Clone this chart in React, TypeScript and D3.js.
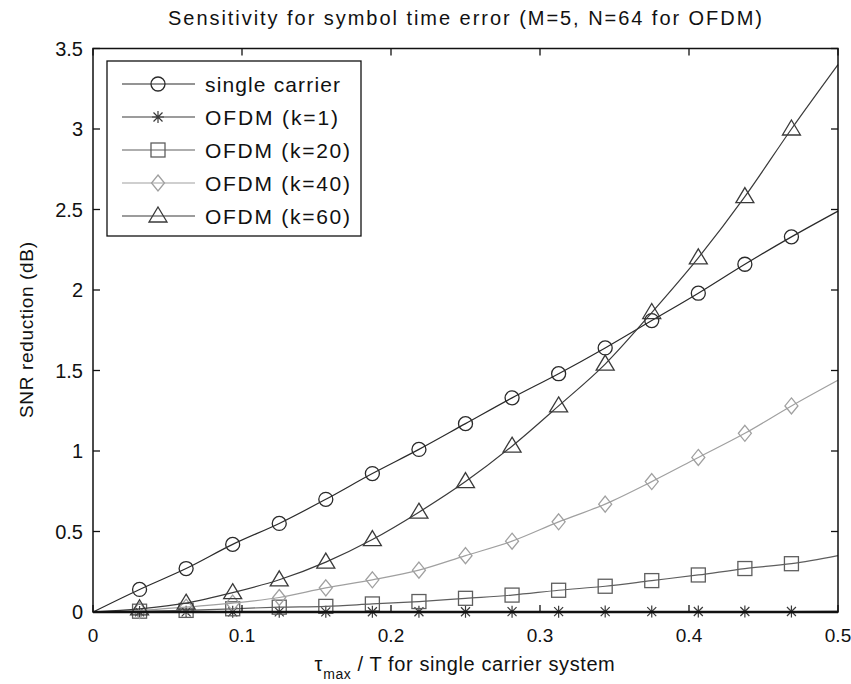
import React from "react";
import * as d3 from "d3";

const xValues = [0, 0.03125, 0.0625, 0.09375, 0.125, 0.15625, 0.1875, 0.21875, 0.25, 0.28125, 0.3125, 0.34375, 0.375, 0.40625, 0.4375, 0.46875, 0.5];
const singleCarrier = [0, 0.14, 0.27, 0.42, 0.55, 0.7, 0.86, 1.01, 1.17, 1.33, 1.48, 1.64, 1.81, 1.98, 2.16, 2.33, 2.49];
const ofdmK1 = [0, 0.0005, 0.0008, 0.001, 0.001, 0.0012, 0.0014, 0.0016, 0.0018, 0.002, 0.0022, 0.0024, 0.0026, 0.0028, 0.003, 0.0032, 0.0034];
const ofdmK20 = [0, 0.005, 0.01, 0.02, 0.03, 0.035, 0.05, 0.065, 0.085, 0.105, 0.135, 0.16, 0.195, 0.23, 0.27, 0.3, 0.35];
const ofdmK40 = [0, 0.01, 0.03, 0.055, 0.09, 0.15, 0.2, 0.26, 0.35, 0.44, 0.56, 0.67, 0.81, 0.96, 1.11, 1.28, 1.44];
const ofdmK60 = [0, 0.02, 0.055, 0.12, 0.2, 0.31, 0.45, 0.62, 0.81, 1.03, 1.28, 1.54, 1.86, 2.2, 2.58, 3.0, 3.4];

const seriesNames = ["single carrier", "OFDM (k=1)", "OFDM (k=20)", "OFDM (k=40)", "OFDM (k=60)"];
const seriesMarkers = ["circle", "star", "square", "diamond", "triangle"];
const seriesColors = ["#2a2a2a", "#3a3a3a", "#5e5e5e", "#a0a0a0", "#3a3a3a"];
const seriesData = [singleCarrier, ofdmK1, ofdmK20, ofdmK40, ofdmK60];

const xTicks = [0, 0.1, 0.2, 0.3, 0.4, 0.5];
const yTicks = [0, 0.5, 1, 1.5, 2, 2.5, 3, 3.5];

const W = 851, H = 684;
const left = 93, right = 838, top = 48.5, bottom = 612;
const FONT = "'Liberation Sans', Arial, Helvetica, sans-serif";

function Marker({ type, x, y, color }: { type: string; x: number; y: number; color: string }) {
  const sw = 1.3;
  if (type === "circle") return <circle cx={x} cy={y} r={7} fill="none" stroke={color} strokeWidth={sw} />;
  if (type === "square") return <rect x={x - 7} y={y - 7} width={14} height={14} fill="none" stroke={color} strokeWidth={sw} />;
  if (type === "diamond") return <path d={`M${x},${y - 8}L${x + 6.5},${y}L${x},${y + 8}L${x - 6.5},${y}Z`} fill="none" stroke={color} strokeWidth={sw} />;
  if (type === "triangle") return <path d={`M${x},${y - 9}L${x + 9},${y + 6}L${x - 9},${y + 6}Z`} fill="none" stroke={color} strokeWidth={sw} />;
  const s = 6;
  const d = 4.5;
  return (
    <path
      d={`M${x},${y - s}L${x},${y + s}M${x - s},${y}L${x + s},${y}M${x - d},${y - d}L${x + d},${y + d}M${x - d},${y + d}L${x + d},${y - d}`}
      stroke={color}
      strokeWidth={1.2}
    />
  );
}

export default function App() {
  const xScale = d3.scaleLinear().domain([0, 0.5]).range([left, right]);
  const yScale = d3.scaleLinear().domain([0, 3.5]).range([bottom, top]);
  const line = d3
    .line<number>()
    .x((_, i) => xScale(xValues[i]))
    .y((d) => yScale(d))
    .curve(d3.curveMonotoneX);

  const tickLen = 7;
  const legendX = 107, legendY = 61, legendW = 254, legendH = 175;
  const rowH = 33;
  const legendTextLen = [135, 133, 145, 145, 145];

  return (
    <svg width={W} height={H} style={{ position: "absolute", left: 0, top: 0, background: "#fff" }} fontFamily={FONT}>
      <rect x={0} y={0} width={W} height={H} fill="#fff" />
      {/* title */}
      <text x={465} y={25} textAnchor="middle" fontSize={20} fill="#111" textLength={594} lengthAdjust="spacing">
        Sensitivity for symbol time error (M=5, N=64 for OFDM)
      </text>

      {/* series */}
      {seriesData.map((data, si) => (
        <g key={si}>
          <path d={line(data) || ""} fill="none" stroke={seriesColors[si]} strokeWidth={1.2} />
          {data.map((v, i) =>
            i > 0 && i < data.length - 1 ? (
              <Marker key={i} type={seriesMarkers[si]} x={xScale(xValues[i])} y={yScale(v)} color={seriesColors[si]} />
            ) : null
          )}
        </g>
      ))}

      {/* axes box */}
      <rect x={left} y={top} width={right - left} height={bottom - top} fill="none" stroke="#111" strokeWidth={1.5} />
      <line x1={left} x2={right} y1={bottom} y2={bottom} stroke="#111" strokeWidth={2.5} />
      {xTicks.map((t) => (
        <g key={"x" + t}>
          <line x1={xScale(t)} x2={xScale(t)} y1={bottom} y2={bottom - tickLen} stroke="#111" strokeWidth={1.3} />
          <line x1={xScale(t)} x2={xScale(t)} y1={top} y2={top + tickLen} stroke="#111" strokeWidth={1.3} />
          <text x={xScale(t)} y={642} textAnchor="middle" fontSize={19} fill="#111">
            {String(t)}
          </text>
        </g>
      ))}
      {yTicks.map((t) => (
        <g key={"y" + t}>
          <line x1={left} x2={left + tickLen} y1={yScale(t)} y2={yScale(t)} stroke="#111" strokeWidth={1.3} />
          <line x1={right} x2={right - tickLen} y1={yScale(t)} y2={yScale(t)} stroke="#111" strokeWidth={1.3} />
          <text x={83} y={yScale(t) + 7} textAnchor="end" fontSize={20} fill="#111">
            {String(t)}
          </text>
        </g>
      ))}

      {/* axis labels */}
      <text x={465} y={671} textAnchor="middle" fontSize={20} fill="#111" letterSpacing={0.6}>
        <tspan>τ</tspan>
        <tspan fontSize={14} dy={8}>max</tspan>
        <tspan dy={-8}> / T for single carrier system</tspan>
      </text>
      <text transform={`translate(33,330) rotate(-90)`} textAnchor="middle" fontSize={19} fill="#111" textLength={176} lengthAdjust="spacing">
        SNR reduction (dB)
      </text>

      {/* legend */}
      <rect x={legendX} y={legendY} width={legendW} height={legendH} fill="#fff" stroke="#111" strokeWidth={1.3} />
      {seriesNames.map((name, i) => {
        const cy = legendY + 23 + i * rowH;
        return (
          <g key={name}>
            <line x1={122} x2={195} y1={cy} y2={cy} stroke={seriesColors[i]} strokeWidth={1.2} />
            <Marker type={seriesMarkers[i]} x={158} y={cy} color={seriesColors[i]} />
            <text x={205} y={cy + 8} fontSize={21} fill="#111" textLength={legendTextLen[i]} lengthAdjust="spacing">
              {name}
            </text>
          </g>
        );
      })}
    </svg>
  );
}
